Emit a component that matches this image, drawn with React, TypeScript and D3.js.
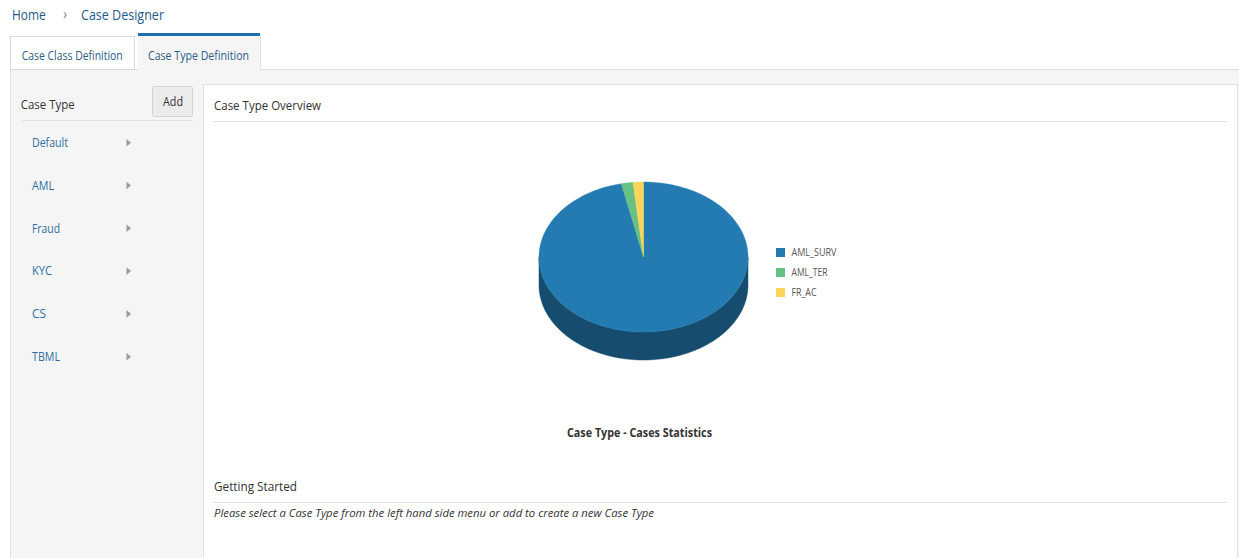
import React from "react";
import * as d3 from "d3";

const caseTypes = ["Default", "AML", "Fraud", "KYC", "CS", "TBML"];
const seriesNames = ["AML_SURV", "AML_TER", "FR_AC"];
const seriesValues = [96.6, 1.8, 1.6];
const seriesColors = ["#237bb1", "#68c182", "#fad55c"];

const W = 1239;
const H = 558;
const FONT = "'Open Sans', 'Noto Sans', sans-serif";

function T(props: any) {
  const { w, children, ...rest } = props;
  return (
    <text
      fontFamily={FONT}
      textLength={w}
      lengthAdjust="spacingAndGlyphs"
      {...rest}
    >
      {children}
    </text>
  );
}

function Pie3D() {
  const cx = 643.5;
  const cy = 257;
  const rx = 104.5;
  const ry = 75;
  const depth = 28;
  const pie = d3.pie<number>().sort(null).startAngle(0).endAngle(2 * Math.PI);
  const arcs = pie(seriesValues);
  const pt = (a: number, dy = 0): [number, number] => [
    cx + rx * Math.sin(a),
    cy - ry * Math.cos(a) + dy,
  ];
  const sample = (a0: number, a1: number, dy = 0) => {
    const n = Math.max(2, Math.ceil(((a1 - a0) / (2 * Math.PI)) * 240));
    const pts: [number, number][] = [];
    for (let i = 0; i <= n; i++) pts.push(pt(a0 + ((a1 - a0) * i) / n, dy));
    return pts;
  };
  const line = d3.line();
  const sides: any[] = [];
  arcs.forEach((a, i) => {
    const s = Math.max(a.startAngle, Math.PI / 2);
    const e = Math.min(a.endAngle, (3 * Math.PI) / 2);
    if (e > s) {
      const top = sample(s, e);
      const bot = sample(s, e, depth).reverse();
      const col = d3.color(seriesColors[i])!.darker(1.3).formatHex();
      sides.push(
        <path key={"s" + i} d={line([...top, ...bot])! + "Z"} fill={col} stroke={col} strokeWidth={0.5} />
      );
    }
  });
  const tops = arcs.map((a, i) => {
    const pts: [number, number][] = [[cx, cy], ...sample(a.startAngle, a.endAngle)];
    return (
      <path key={"t" + i} d={line(pts)! + "Z"} fill={seriesColors[i]} stroke={seriesColors[i]} strokeWidth={0.4} />
    );
  });
  return (
    <g>
      {sides}
      {tops}
    </g>
  );
}

export default function App() {
  const yMenu = d3.scaleLinear().domain([0, caseTypes.length - 1]).range([142.7, 356.7]);
  const yLegend = d3.scaleLinear().domain([0, seriesNames.length - 1]).range([252.5, 292.5]);
  const legendW = [45, 36, 25];
  const menuW = [36, 22, 28, 20, 14, 28];
  return (
    <svg
      width={W}
      height={H}
      style={{ position: "fixed", left: 0, top: 0, background: "#fff" }}
    >
      {/* breadcrumb */}
      <T x={12} y={19.5} fontSize={14.5} fill="#1f5a88" w={33.7}>Home</T>
      <text x={63} y={18.5} fontSize={14} fill="#888" fontFamily={FONT}>›</text>
      <T x={81} y={19.5} fontSize={14.5} fill="#1f5a88" w={83}>Case Designer</T>

      {/* content background */}
      <rect x={10} y={69} width={W - 10} height={H - 69} fill="#f5f5f5" />
      <line x1={10} y1={69.5} x2={W} y2={69.5} stroke="#dedede" />

      {/* tabs */}
      <rect x={10.5} y={36.5} width={124} height={33} fill="#fff" stroke="#d8d8d8" />
      <T x={21.7} y={60} fontSize={12.5} fill="#2b5d86" w={101}>Case Class Definition</T>
      <rect x={138} y={35} width={122} height={35} fill="#f5f5f5" />
      <rect x={138} y={33} width={122} height={3} fill="#1b6fb0" />
      <line x1={260.5} y1={36} x2={260.5} y2={69} stroke="#e2e2e2" />
      <T x={148} y={60} fontSize={12.5} fill="#2b5d86" w={101}>Case Type Definition</T>

      {/* left panel */}
      <line x1={10.5} y1={70} x2={10.5} y2={H} stroke="#e2e2e2" />
      <line x1={203.5} y1={84} x2={203.5} y2={H} stroke="#e2e2e2" />
      <T x={20.7} y={108.5} fontSize={13.5} fill="#333" w={54}>Case Type</T>
      <rect x={152.5} y={86.5} width={40} height={30} rx={2} fill="#ececec" stroke="#d2d2d2" />
      <T x={163} y={106} fontSize={12.5} fill="#333" w={20}>Add</T>
      <line x1={22} y1={120.5} x2={193} y2={120.5} stroke="#e0e0e0" />
      {caseTypes.map((c, i) => (
        <g key={c}>
          <T x={32} y={yMenu(i) + 4.3} fontSize={12.5} fill="#2e6fa3" w={menuW[i]}>
            {c}
          </T>
          <path
            d={`M126.5,${yMenu(i) - 3.8}L131,${yMenu(i)}L126.5,${yMenu(i) + 3.8}Z`}
            fill="#9a9a9a"
          />
        </g>
      ))}

      {/* main panel */}
      <rect x={203.5} y={84.5} width={1034} height={H} fill="#fff" stroke="#e2e2e2" />
      <T x={214} y={109.5} fontSize={13.5} fill="#333" w={107}>Case Type Overview</T>
      <line x1={213} y1={121.5} x2={1227} y2={121.5} stroke="#e0e0e0" />

      <Pie3D />

      {seriesNames.map((n, i) => (
        <g key={n}>
          <rect x={776} y={yLegend(i) - 4.5} width={9} height={9} fill={seriesColors[i]} />
          <T x={791.5} y={yLegend(i) + 3.6} fontSize={10.5} fill="#555" w={legendW[i]}>
            {n}
          </T>
        </g>
      ))}

      <T x={567} y={436.5} fontSize={12.5} fontWeight="bold" fill="#333" w={145}>
        Case Type - Cases Statistics
      </T>

      <T x={214} y={490.5} fontSize={13.5} fill="#333" w={83}>Getting Started</T>
      <line x1={213} y1={502.5} x2={1227} y2={502.5} stroke="#e0e0e0" />
      <T x={214} y={517} fontSize={11.5} fontStyle="italic" fill="#333" w={440}>
        Please select a Case Type from the left hand side menu or add to create a new Case Type
      </T>
    </svg>
  );
}
